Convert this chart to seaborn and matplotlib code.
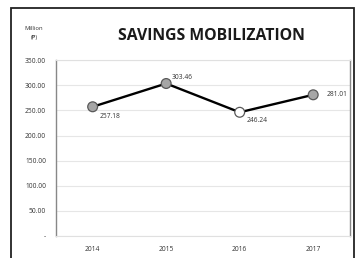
import pandas as pd
import seaborn as sns
import matplotlib.pyplot as plt
from matplotlib.patches import Rectangle

years = ['2014', '2015', '2016', '2017']
savings = [257.18, 303.46, 246.24, 281.01]
marker_fill = ['#a6a6a6', '#a6a6a6', '#ffffff', '#a6a6a6']
yticks = [0, 50, 100, 150, 200, 250, 300, 350]
ytick_labels = ['-', '50.00', '100.00', '150.00', '200.00', '250.00', '300.00', '350.00']

df = pd.DataFrame({'year': years, 'savings': savings})

sns.set_theme(style='white')
plt.rcParams['font.family'] = ['Open Sans', 'DejaVu Sans']

fig = plt.figure(figsize=(3.56, 2.58), dpi=100)
ax = fig.add_axes([0.157, 0.085, 0.826, 0.682])

sns.lineplot(x='year', y='savings', data=df, color='black', linewidth=1.7,
             sort=False, ax=ax, zorder=3)
ax.scatter(range(len(years)), savings, s=50, c=marker_fill,
           edgecolors='#595959', linewidths=0.9, zorder=4)

offsets = [(5, -7), (4, 4), (5, -6), (10, 0)]
for i, (v, off) in enumerate(zip(savings, offsets)):
    ax.annotate(f'{v:.2f}', (i, v), xytext=off, textcoords='offset points',
                fontsize=4.8, ha='left', va='center', color='#333333')

ax.set_xlim(-0.5, 3.5)
ax.set_ylim(0, 350)
ax.set_yticks(yticks)
ax.set_yticklabels(ytick_labels)
ax.tick_params(axis='both', labelsize=4.8, length=0, colors='#333333')
ax.tick_params(axis='y', pad=7)
ax.tick_params(axis='x', pad=7)
ax.set_xlabel('')
ax.set_ylabel('')
ax.grid(visible=True, axis='y', color='#e6e6e6', linewidth=0.8)
for side in ['left', 'right']:
    ax.spines[side].set_color('#888888')
    ax.spines[side].set_linewidth(1.0)
for side in ['top', 'bottom']:
    ax.spines[side].set_color('#e0e0e0')
    ax.spines[side].set_linewidth(0.8)

fig.text(0.595, 0.862, 'SAVINGS MOBILIZATION', fontsize=11.3, fontweight='bold',
         ha='center', va='center', color='#1a1a1a')
fig.text(0.095, 0.872, 'Million\n(₱)', fontsize=4.2, ha='center', va='center',
         color='#333333', linespacing=2.0)

fig.patches.append(Rectangle((11 / 356, -0.05), 343 / 356, 1 - 8 / 258 + 0.05,
                             transform=fig.transFigure, fill=False,
                             edgecolor='#222222', linewidth=1.3))

fig.savefig('out.png', dpi=100)
